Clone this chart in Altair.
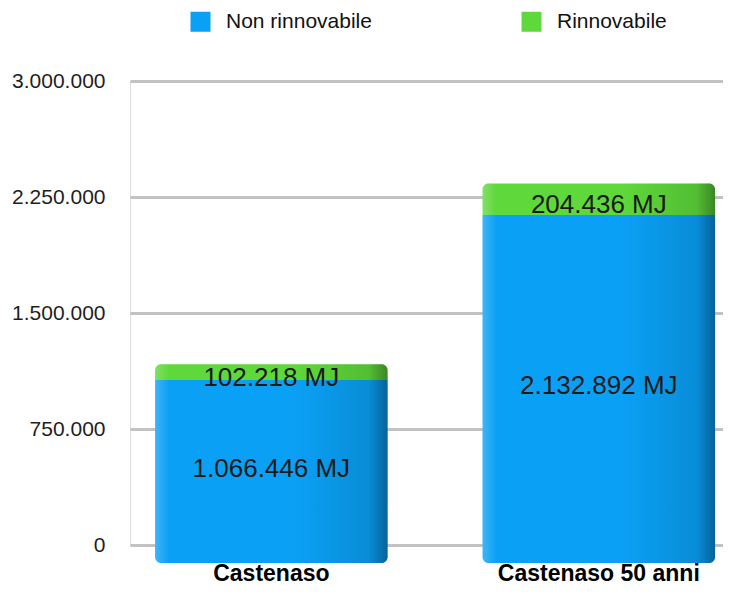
import altair as alt
import pandas as pd

categorie = ["Castenaso", "Castenaso 50 anni"]
serie = ["Non rinnovabile", "Rinnovabile"]
non_rinnovabile = [1066446, 2132892]
rinnovabile = [102218, 204436]
y_ticks = [0, 750000, 1500000, 2250000, 3000000]
colori = ["#0aa0f5", "#5ed83a"]


def it_fmt(v):
    return f"{v:,}".replace(",", ".") + " MJ"


rows = []
for i, c in enumerate(categorie):
    rows.append({"categoria": c, "serie": serie[0], "valore": non_rinnovabile[i],
                 "ordine": 0, "etichetta": it_fmt(non_rinnovabile[i])})
    rows.append({"categoria": c, "serie": serie[1], "valore": rinnovabile[i],
                 "ordine": 1, "etichetta": it_fmt(rinnovabile[i])})
df = pd.DataFrame(rows)

FONT = "Liberation Sans"

x_enc = alt.X(
    "categoria:N",
    sort=categorie,
    scale=alt.Scale(paddingInner=0.29, paddingOuter=0.0504, align=0.76),
    axis=alt.Axis(title=None, domain=False, ticks=False, labelAngle=0,
                  labelFontSize=23, labelFontWeight="bold", labelColor="#000000",
                  labelFont=FONT, labelPadding=17, labelLimit=400, grid=False),
)

y_scale = alt.Scale(domain=[0, 3000000])
y_axis = alt.Axis(title=None, values=y_ticks, format=",d", domain=False, ticks=False,
                  grid=True, gridColor="#c2c2c2", gridWidth=3,
                  labelFontSize=21, labelColor="#1e1e1e", labelFont=FONT,
                  labelPadding=25)

color_enc = alt.Color(
    "serie:N",
    scale=alt.Scale(domain=serie, range=colori),
    legend=alt.Legend(title=None, orient="none", legendX=60, legendY=-70,
                      direction="horizontal", symbolType="square", symbolSize=400,
                      symbolStrokeWidth=0, labelFontSize=21, labelFont=FONT,
                      labelColor="#111111", labelOffset=15, columnPadding=149,
                      padding=0, labelLimit=400),
)

base = alt.Chart(df).transform_stack(
    stack="valore", groupby=["categoria"], as_=["y0", "y1"],
    sort=[alt.SortField("ordine", order="ascending")],
)

blu = base.transform_filter(alt.datum.ordine == 0).mark_bar(
    cornerRadiusBottomLeft=6, cornerRadiusBottomRight=6, y2Offset=18
).encode(
    x=x_enc,
    y=alt.Y("y1:Q", scale=y_scale, axis=y_axis),
    y2="y0:Q",
    color=color_enc,
)

verde = base.transform_filter(alt.datum.ordine == 1).mark_bar(
    cornerRadiusTopLeft=6, cornerRadiusTopRight=6
).encode(
    x=x_enc,
    y=alt.Y("y1:Q", scale=y_scale),
    y2="y0:Q",
    color=color_enc,
)

ombra = alt.Chart(df).transform_aggregate(
    totale="sum(valore)", groupby=["categoria"]
).mark_bar(
    cornerRadius=6, y2Offset=18,
    fill=alt.LinearGradient(
        gradient="linear", x1=0, x2=1, y1=0, y2=0,
        stops=[
            alt.GradientStop(color="rgba(255,255,255,0.22)", offset=0),
            alt.GradientStop(color="rgba(255,255,255,0.0)", offset=0.06),
            alt.GradientStop(color="rgba(0,0,0,0.0)", offset=0.6),
            alt.GradientStop(color="rgba(0,0,0,0.12)", offset=0.92),
            alt.GradientStop(color="rgba(0,0,0,0.38)", offset=1),
        ],
    ),
).encode(
    x=x_enc,
    y=alt.Y("totale:Q", scale=y_scale),
    y2=alt.Y2(datum=0),
)

testo = base.transform_calculate(
    mid="(datum.y0 + datum.y1) / 2"
).mark_text(
    fontSize=26, font=FONT, color="#1a1a1a", baseline="middle", align="center", dy=6
).encode(
    x=x_enc,
    y=alt.Y("mid:Q", scale=y_scale),
    text="etichetta:N",
)

chart = alt.layer(blu, verde, ombra, testo).properties(
    width=593,
    height=464,
    autosize=alt.AutoSizeParams(type="none"),
    padding={"left": 122, "top": 73, "right": 0, "bottom": 41},
    background="#ffffff",
).configure_view(
    stroke=None
).configure(
    locale={"number": {"decimal": ",", "thousands": ".", "grouping": [3],
                       "currency": ["", " €"]}}
)

chart.save("out.html", embed_options={"renderer": "svg", "actions": False})
